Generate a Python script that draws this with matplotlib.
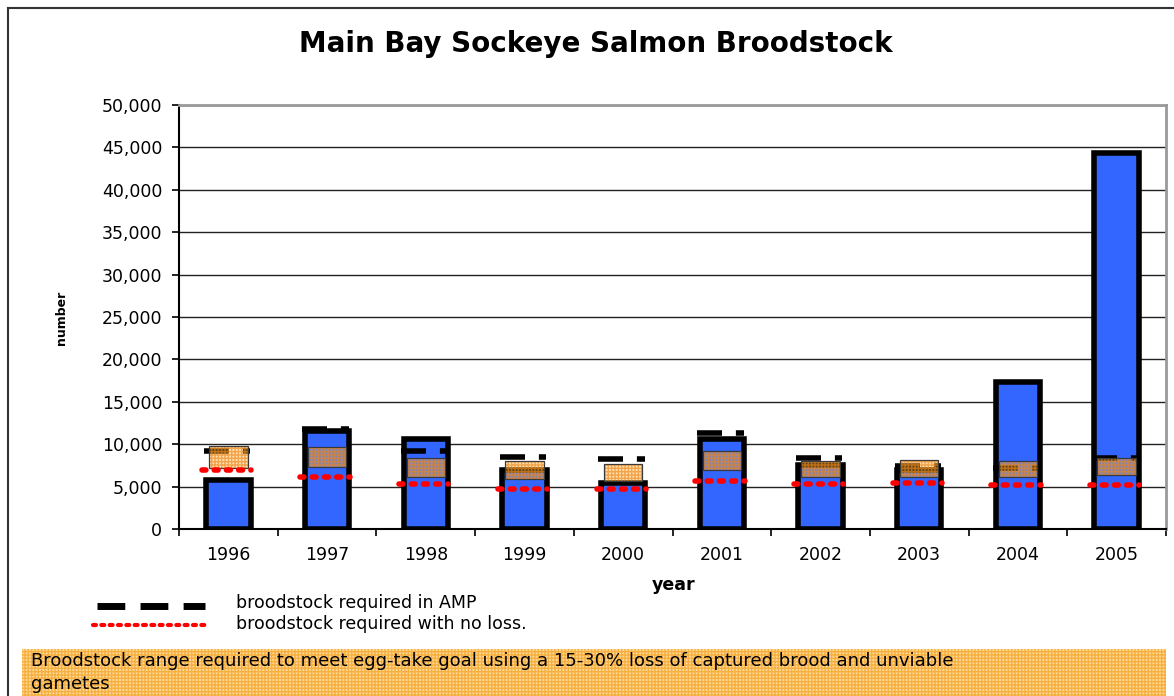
import matplotlib
matplotlib.use("Agg")
import matplotlib.pyplot as plt
import numpy as np
from matplotlib.patches import Rectangle
from matplotlib.lines import Line2D

plt.rcParams['font.family'] = ['DejaVu Sans']
plt.rcParams['hatch.linewidth'] = 1.0

years = ['1996', '1997', '1998', '1999', '2000', '2001', '2002', '2003', '2004', '2005']
collected = [5800, 11500, 10600, 7000, 5400, 10600, 7500, 7000, 17300, 44300]
range_low = [7200, 7300, 6100, 5900, 5700, 7000, 6100, 6100, 6100, 6400]
range_high = [9800, 9700, 8400, 8000, 7700, 9200, 8000, 8100, 8000, 8400]
amp_required = [9200, 11800, 9200, 8500, 8300, 11300, 8400, 7400, 7200, 8400]
no_loss = [7000, 6100, 5300, 4700, 4700, 5700, 5300, 5400, 5200, 5200]
yticks = [0, 5000, 10000, 15000, 20000, 25000, 30000, 35000, 40000, 45000, 50000]

W, H = 1174, 696
fig = plt.figure(figsize=(W / 100, H / 100), dpi=100)

def fx(px):
    return px / W

def fy(py):
    return 1 - py / H

ax = fig.add_axes([fx(179), fy(529), fx(1166) - fx(179), fy(105) - fy(529)])
x = np.arange(len(years))

blue = '#3366FF'
box_face = (1.0, 0.70, 0.25, 0.40)
hatch_col = (0.93, 0.52, 0.08, 0.65)

ax.bar(x, collected, width=0.45, color=blue, edgecolor='black', linewidth=4, zorder=2)

for i in x:
    ax.plot([i - 0.25, i + 0.22], [amp_required[i]] * 2, color='black', lw=4,
            dashes=(4.5, 2.5), solid_capstyle='butt', zorder=3)

lo = np.array(range_low)
hi = np.array(range_high)
ax.bar(x, hi - lo, bottom=lo, width=0.39, color=box_face, edgecolor='none', linewidth=0, zorder=4)
ax.bar(x, hi - lo, bottom=lo, width=0.39, color='none', edgecolor=hatch_col, linewidth=0,
       hatch='+++++', zorder=4.1)
ax.bar(x, hi - lo, bottom=lo, width=0.39, color='none', edgecolor='#3a3a3a', linewidth=0.9, zorder=4.2)

for i in x:
    ax.plot([i - 0.27, i + 0.23], [no_loss[i]] * 2, color='red', lw=4,
            linestyle=(0, (0.7, 1.5)), dash_capstyle='round', zorder=5)

ax.set_xlim(-0.5, 9.5)
ax.set_ylim(0, 50000)
ax.set_yticks(yticks)
ax.set_yticklabels([f'{v:,}' for v in yticks], fontsize=12.5)
ax.set_xticks(x)
ax.set_xticklabels(years, fontsize=12.5)
ax.set_xticks(np.arange(-0.5, 10.0, 1.0), minor=True)
ax.tick_params(axis='x', which='major', length=0, pad=12)
ax.tick_params(axis='x', which='minor', length=5, width=1.2, direction='out')
ax.tick_params(axis='y', length=5, width=1.2, direction='out', pad=7)
ax.yaxis.grid(True, color='#222222', linewidth=1.0, zorder=0)
ax.set_axisbelow(True)
for s in ['top', 'right']:
    ax.spines[s].set_color('#999999')
    ax.spines[s].set_linewidth(2)
for s in ['left', 'bottom']:
    ax.spines[s].set_color('black')
    ax.spines[s].set_linewidth(1.5)

fig.text(fx(674), fy(585), 'year', fontsize=12.5, fontweight='bold', ha='center', va='center')
fig.text(fx(62), fy(318), 'number', rotation=90, fontsize=9, fontweight='bold',
         ha='center', va='center')
fig.text(fx(596), fy(44), 'Main Bay Sockeye Salmon Broodstock', fontsize=20,
         fontweight='bold', ha='center', va='center')

# outer frame
fig.add_artist(Line2D([fx(8), fx(8)], [0, fy(8)], color='#333333', lw=1.5))
fig.add_artist(Line2D([fx(8), 1], [fy(8), fy(8)], color='#333333', lw=1.5))

# legend
fig.add_artist(Line2D([fx(97), fx(205)], [fy(606), fy(606)], color='black', lw=5,
                      dashes=(4, 2.2), solid_capstyle='butt'))
fig.add_artist(Line2D([fx(93), fx(205)], [fy(625), fy(625)], color='red', lw=3,
                      linestyle=(0, (0.7, 1.3)), dash_capstyle='round'))
fig.text(fx(236), fy(603), 'broodstock required in AMP', fontsize=12.5, va='center')
fig.text(fx(236), fy(624), 'broodstock required with no loss.', fontsize=12.5, va='center')

# bottom note box
fig.add_artist(Rectangle((fx(22), 0), fx(1166) - fx(22), fy(649), transform=fig.transFigure,
                         facecolor='#FFD89A', edgecolor='none', linewidth=0))
fig.add_artist(Rectangle((fx(22), 0), fx(1166) - fx(22), fy(649), transform=fig.transFigure,
                         facecolor='none', edgecolor='#F5B040', linewidth=0, hatch='+++++'))
fig.text(fx(31), fy(661), 'Broodstock range required to meet egg-take goal using a 15-30% loss of captured brood and unviable',
         fontsize=13, va='center')
fig.text(fx(31), fy(684), 'gametes', fontsize=13, va='center')

fig.savefig('out.png', dpi=100)
